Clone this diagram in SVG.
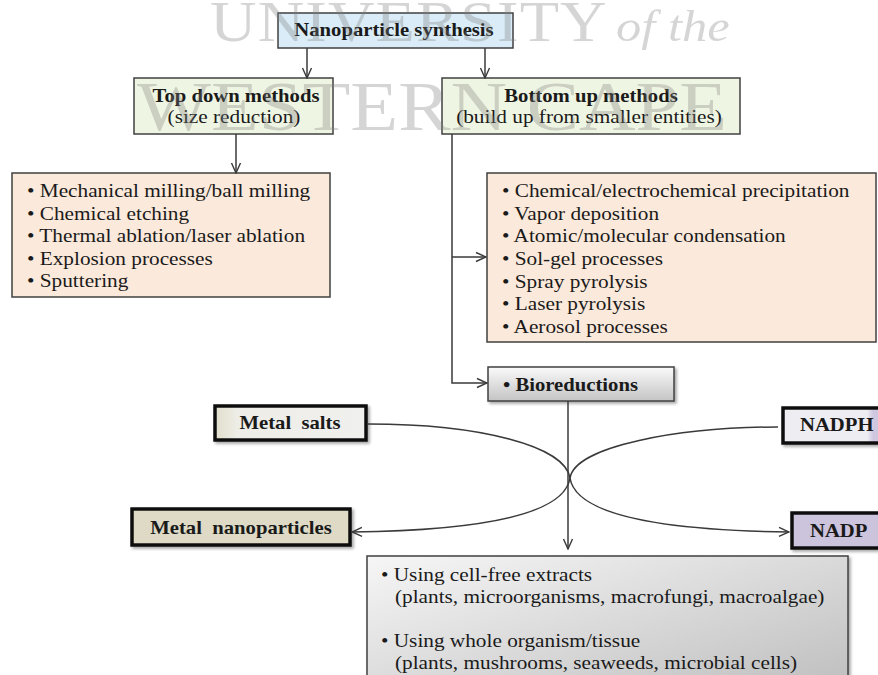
<svg xmlns="http://www.w3.org/2000/svg" width="878" height="675" viewBox="0 0 878 675">
<style>
.b{fill:#1a1a1a;font-family:"Liberation Serif","Times New Roman",serif;font-size:18px;font-weight:bold}
.t{fill:#1a1a1a;font-family:"Liberation Serif","Times New Roman",serif;font-size:18.5px}
.m{text-anchor:middle}
.box{stroke:#404040;stroke-width:1.5}
.thick{stroke:#111;stroke-width:3.5}
.c{fill:none;stroke:#3a3a3a;stroke-width:1.5}
.wm{fill:#808080;opacity:0.32;font-family:"Liberation Serif","Times New Roman",serif}
</style>
<defs>
<marker id="ah" viewBox="0 0 12 12" refX="11" refY="6" markerWidth="12" markerHeight="12" markerUnits="userSpaceOnUse" orient="auto">
<path d="M1,1.5 L11,6 L1,10.5" fill="none" stroke="#3a3a3a" stroke-width="1.4"/>
</marker>
<filter id="sh" x="-10%" y="-10%" width="130%" height="140%">
<feDropShadow dx="2" dy="2" stdDeviation="1.5" flood-color="#000" flood-opacity="0.35"/>
</filter>
<linearGradient id="gBio" x1="0" y1="0" x2="0" y2="1">
<stop offset="0" stop-color="#fafafa"/><stop offset="1" stop-color="#c4c4c4"/>
</linearGradient>
<linearGradient id="gBot" x1="0" y1="0" x2="1" y2="1">
<stop offset="0" stop-color="#f6f6f6"/><stop offset="1" stop-color="#bdbdbd"/>
</linearGradient>
<linearGradient id="gSalt" x1="0" y1="0" x2="1" y2="0">
<stop offset="0" stop-color="#e2dfcc"/><stop offset="0.15" stop-color="#eeede7"/><stop offset="1" stop-color="#f0f0ee"/>
</linearGradient>
<linearGradient id="gNadph" x1="0" y1="0" x2="1" y2="0">
<stop offset="0" stop-color="#eeedf2"/><stop offset="0.72" stop-color="#eeedf2"/><stop offset="0.77" stop-color="#cfc7e0"/><stop offset="1" stop-color="#cfc7e0"/>
</linearGradient>
</defs>
<rect width="878" height="675" fill="#ffffff"/>

<g id="nanoparticle-synthesis">
<rect class="box" x="278" y="13" width="235" height="35" fill="#d9ecf7"/>
<text class="b m" transform="translate(394,36) scale(1.15,1)">Nanoparticle synthesis</text>
</g>
<g id="top-down">
<rect class="box" x="134" y="78" width="199" height="56" fill="#eff5e3"/>
<text class="b m" transform="translate(236,102) scale(1.15,1)">Top down methods</text>
<text class="t m" transform="translate(234,123) scale(1.15,1)">(size reduction)</text>
</g>
<g id="bottom-up">
<rect class="box" x="442" y="78" width="298" height="56" fill="#eff5e3"/>
<text class="b m" transform="translate(591,102) scale(1.15,1)">Bottom up methods</text>
<text class="t m" transform="translate(589,123) scale(1.15,1)">(build up from smaller entities)</text>
</g>
<g id="top-down-list">
<rect class="box" x="12" y="173" width="318" height="124" fill="#fbe9db"/>
<text class="t" transform="translate(27,197) scale(1.15,1)">• Mechanical milling/ball milling</text>
<text class="t" transform="translate(27,219.5) scale(1.15,1)">• Chemical etching</text>
<text class="t" transform="translate(27,242) scale(1.15,1)">• Thermal ablation/laser ablation</text>
<text class="t" transform="translate(27,264.5) scale(1.15,1)">• Explosion processes</text>
<text class="t" transform="translate(27,287) scale(1.15,1)">• Sputtering</text>
</g>
<g id="bottom-up-list">
<rect class="box" x="487" y="173" width="389" height="169" fill="#fbe9db"/>
<text class="t" transform="translate(502,197) scale(1.15,1)">• Chemical/electrochemical precipitation</text>
<text class="t" transform="translate(502,219.7) scale(1.15,1)">• Vapor deposition</text>
<text class="t" transform="translate(502,242.3) scale(1.15,1)">• Atomic/molecular condensation</text>
<text class="t" transform="translate(502,265) scale(1.15,1)">• Sol-gel processes</text>
<text class="t" transform="translate(502,287.7) scale(1.15,1)">• Spray pyrolysis</text>
<text class="t" transform="translate(502,310.3) scale(1.15,1)">• Laser pyrolysis</text>
<text class="t" transform="translate(502,333) scale(1.15,1)">• Aerosol processes</text>
</g>
<g id="bioreductions">
<rect class="box" x="488" y="367" width="186" height="34" fill="url(#gBio)" filter="url(#sh)"/>
<text class="b" transform="translate(503,391) scale(1.15,1)">• Bioreductions</text>
</g>
<g id="metal-salts">
<rect class="thick" x="215" y="406" width="151" height="34" fill="url(#gSalt)" filter="url(#sh)"/>
<text class="b m" transform="translate(290,429) scale(1.15,1)">Metal&#160; salts</text>
</g>
<g id="nadph">
<rect class="thick" x="783" y="408" width="117" height="35" fill="url(#gNadph)" filter="url(#sh)"/>
<text class="b" transform="translate(800,431) scale(1.15,1)">NADPH</text>
</g>
<g id="metal-nanoparticles">
<rect class="thick" x="132" y="509" width="218" height="36" fill="#dedac6" filter="url(#sh)"/>
<text class="b m" transform="translate(241,534) scale(1.15,1)">Metal&#160; nanoparticles</text>
</g>
<g id="nadp">
<rect class="thick" x="792" y="513" width="110" height="35" fill="#ccc3dd" filter="url(#sh)"/>
<text class="b" transform="translate(810,537) scale(1.15,1)">NADP</text>
</g>
<g id="biological-methods">
<rect class="box" x="367" y="556" width="481" height="140" fill="url(#gBot)" filter="url(#sh)"/>
<text class="t" transform="translate(381,581) scale(1.15,1)">• Using cell-free extracts</text>
<text class="t" transform="translate(395,603) scale(1.15,1)">(plants, microorganisms, macrofungi, macroalgae)</text>
<text class="t" transform="translate(381,647) scale(1.15,1)">• Using whole organism/tissue</text>
<text class="t" transform="translate(395,669) scale(1.15,1)">(plants, mushrooms, seaweeds, microbial cells)</text>
</g>

<g id="connectors">
<path class="c" d="M307,48 V78" marker-end="url(#ah)"/>
<path class="c" d="M485,48 V78" marker-end="url(#ah)"/>
<path class="c" d="M236,134 V173" marker-end="url(#ah)"/>
<path class="c" d="M452,134 V383 H487" marker-end="url(#ah)"/>
<path class="c" d="M452,257 H486" marker-end="url(#ah)"/>
<path class="c" d="M568,401 V549" marker-end="url(#ah)"/>
<path class="c" stroke-width="1.3" d="M368,424 C480,424 565,446 570,478 C575,510 640,530 789,532" marker-end="url(#ah)"/>
<path class="c" stroke-width="1.3" d="M778,427 C680,427 575,446 570,478 C565,510 500,530 352,532" marker-end="url(#ah)"/>
</g>

<g id="watermark">
<text class="wm" font-size="56" letter-spacing="1" transform="translate(210,41) scale(1.15,1)">UNIVERSITY</text>
<text class="wm" font-size="44" font-style="italic" transform="translate(616,41) scale(1.15,1)">of the</text>
<text class="wm" font-size="70" transform="translate(137,130) scale(1.12,1)">WESTERN CAPE</text>
</g>
</svg>
